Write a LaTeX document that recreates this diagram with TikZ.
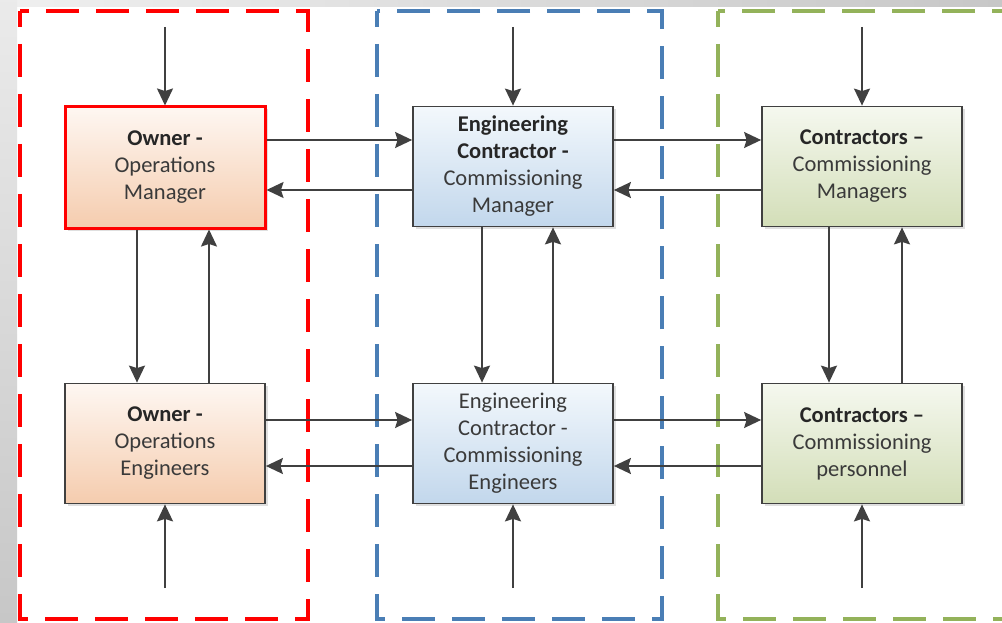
\documentclass[tikz,border=0pt]{standalone}
\usepackage{fontspec}
\setmainfont{Carlito}
\usetikzlibrary{arrows.meta,shadows}
\definecolor{linegray}{HTML}{404040}
\definecolor{txtgray}{HTML}{3A3A3A}
\definecolor{dred}{HTML}{FF0000}
\definecolor{dblue}{HTML}{4A7EB5}
\definecolor{dgreen}{HTML}{93B25A}
\definecolor{otop}{HTML}{FEF7F2}
\definecolor{obot}{HTML}{F5CCAE}
\definecolor{btop}{HTML}{F3F8FC}
\definecolor{bbot}{HTML}{C2D7EC}
\definecolor{gtop}{HTML}{F5F8EF}
\definecolor{gbot}{HTML}{D3DEB8}
\tikzset{
  rolebox/.style={draw=linegray, line width=1.8pt, minimum width=200pt, minimum height=120pt,
    align=center, text=txtgray, font=\fontsize{22.5}{27}\selectfont,
    drop shadow={shadow xshift=2.5pt, shadow yshift=-2.5pt, opacity=0.25}},
  ownerbox/.style={rolebox, top color=otop, bottom color=obot},
  engbox/.style={rolebox, top color=btop, bottom color=bbot},
  conbox/.style={rolebox, top color=gtop, bottom color=gbot},
  arr/.style={draw=linegray, line width=1.6pt, -{Stealth[inset=2.5pt,length=17pt,width=16pt]}},
  zone/.style={line width=3.5pt, dash pattern=on 33pt off 17pt, dash phase=17pt},
}
\begin{document}
\begin{tikzpicture}[x=1pt,y=-1pt]
\useasboundingbox (0,0) rectangle (1002,623);
\fill[white] (0,0) rectangle (1002,623);
\shade[left color=black!6, right color=black!22] (0,0) rectangle (1002,7);
\shade[top color=black!8, bottom color=black!22] (0,0) rectangle (17,623);
% zones
\draw[zone, draw=dred] (20,11) rectangle (308,619);
\draw[zone, draw=dblue] (377,11) rectangle (662,619);
\draw[zone, draw=dgreen] (718,11) rectangle (1030,619);
% boxes
\node[ownerbox, draw=dred, line width=3pt, minimum height=121pt] (om) at (165,167.5)
  {\textbf{\color{black!85}Owner -}\\Operations\\Manager};
\node[ownerbox] (oe) at (165,443.5)
  {\textbf{\color{black!85}Owner -}\\Operations\\Engineers};
\node[engbox] (ecm) at (513,166.5)
  {\textbf{\color{black!85}Engineering}\\\textbf{\color{black!85}Contractor -}\\Commissioning\\Manager};
\node[engbox] (ece) at (513,443.5)
  {Engineering\\Contractor -\\Commissioning\\Engineers};
\node[conbox] (cm) at (862,166.5)
  {\textbf{\color{black!85}Contractors --}\\Commissioning\\Managers};
\node[conbox] (cp) at (862,443.5)
  {\textbf{\color{black!85}Contractors --}\\Commissioning\\personnel};
% free ends
\coordinate (tin1) at (165,27);
\coordinate (tin2) at (513,27);
\coordinate (tin3) at (862,27);
\coordinate (bin1) at (165,588);
\coordinate (bin2) at (513,588);
\coordinate (bin3) at (862,588);
\draw[arr] (tin1) -- (om.north);
\draw[arr] (tin2) -- (ecm.north);
\draw[arr] (tin3) -- (cm.north);
\draw[arr] (bin1) -- (oe.south);
\draw[arr] (bin2) -- (ece.south);
\draw[arr] (bin3) -- (cp.south);
% horizontal
\draw[arr] (om.east |- 0,140) -- (ecm.west |- 0,140);
\draw[arr] (ecm.west |- 0,190) -- (om.east |- 0,190);
\draw[arr] (ecm.east |- 0,140) -- (cm.west |- 0,140);
\draw[arr] (cm.west |- 0,190) -- (ecm.east |- 0,190);
\draw[arr] (oe.east |- 0,420) -- (ece.west |- 0,420);
\draw[arr] (ece.west |- 0,466) -- (oe.east |- 0,466);
\draw[arr] (ece.east |- 0,420) -- (cp.west |- 0,420);
\draw[arr] (cp.west |- 0,466) -- (ece.east |- 0,466);
% vertical
\draw[arr] (om.south -| 137,0) -- (oe.north -| 137,0);
\draw[arr] (oe.north -| 209,0) -- (om.south -| 209,0);
\draw[arr] (ecm.south -| 482,0) -- (ece.north -| 482,0);
\draw[arr] (ece.north -| 553,0) -- (ecm.south -| 553,0);
\draw[arr] (cm.south -| 829,0) -- (cp.north -| 829,0);
\draw[arr] (cp.north -| 902,0) -- (cm.south -| 902,0);
\end{tikzpicture}
\end{document}
